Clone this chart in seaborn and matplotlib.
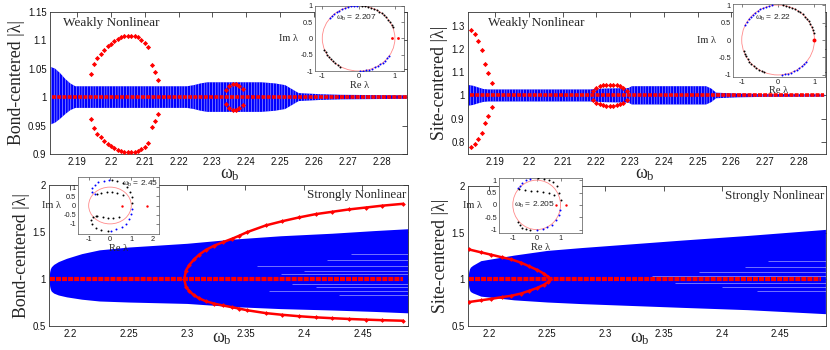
import numpy as np
import matplotlib
matplotlib.use("Agg")
import matplotlib.pyplot as plt
import seaborn as sns
from matplotlib.ticker import FixedLocator, FuncFormatter
from matplotlib.patches import Circle

# ======================= DATA =======================
# --- Panel A: bond-centered, weakly nonlinear ---
a_band_omega = [2.1822, 2.1835, 2.185, 2.1865, 2.188, 2.1895, 2.2225, 2.2245, 2.2265, 2.2285,
                2.2445, 2.2485, 2.2515, 2.2535, 2.2555, 2.262, 2.268, 2.2875]
a_band_upper = [1.053, 1.050, 1.042, 1.032, 1.024, 1.019, 1.019, 1.021, 1.024, 1.026,
                1.026, 1.024, 1.021, 1.014, 1.007, 1.005, 1.004, 1.003]
a_band_lower = [0.952, 0.955, 0.962, 0.970, 0.977, 0.981, 0.981, 0.979, 0.976, 0.974,
                0.974, 0.976, 0.979, 0.986, 0.993, 0.995, 0.996, 0.997]
a_red_omega = [2.194, 2.195, 2.196, 2.197, 2.198, 2.199, 2.200, 2.201, 2.202, 2.203, 2.204,
               2.205, 2.206, 2.207, 2.208, 2.209, 2.210, 2.211, 2.212, 2.213, 2.214]
a_red_upper = [1.040, 1.058, 1.068, 1.076, 1.083, 1.089, 1.094, 1.098, 1.102, 1.105, 1.107,
               1.108, 1.108, 1.107, 1.105, 1.101, 1.095, 1.088, 1.056, 1.044, 1.030]
a_red_lower = [0.962, 0.945, 0.936, 0.929, 0.923, 0.918, 0.914, 0.911, 0.907, 0.905, 0.903,
               0.903, 0.903, 0.903, 0.905, 0.908, 0.913, 0.919, 0.947, 0.958, 0.971]
a_red2_omega = [2.234, 2.235, 2.236, 2.237, 2.238, 2.239]
a_red2_upper = [1.012, 1.020, 1.023, 1.023, 1.020, 1.015]
a_red2_lower = [0.988, 0.981, 0.978, 0.978, 0.981, 0.986]
a_unit_range = [2.1825, 2.2875]
a_xlim = [2.182, 2.2875]
a_ylim = [0.9, 1.15]
a_xticks = [2.19, 2.20, 2.21, 2.22, 2.23, 2.24, 2.25, 2.26, 2.27, 2.28]
a_yticks = [0.9, 0.95, 1.0, 1.05, 1.1, 1.15]

# --- Panel B: site-centered, weakly nonlinear ---
b_band_omega = [2.1822, 2.1835, 2.185, 2.1865, 2.188, 2.218, 2.2225, 2.2295, 2.2305, 2.2525,
                2.254, 2.2555, 2.262, 2.27, 2.2875]
b_band_upper = [1.045, 1.042, 1.035, 1.028, 1.026, 1.026, 1.030, 1.032, 1.040, 1.040,
                1.030, 1.012, 1.008, 1.006, 1.005]
b_band_lower = [0.956, 0.959, 0.966, 0.972, 0.974, 0.974, 0.971, 0.969, 0.961, 0.961,
                0.971, 0.988, 0.992, 0.994, 0.995]
b_red_omega = [2.183, 2.184, 2.185, 2.186, 2.187, 2.188, 2.189]
b_red_upper = [1.285, 1.265, 1.235, 1.195, 1.135, 1.095, 1.055]
b_red_lower = [0.778, 0.790, 0.810, 0.837, 0.881, 0.913, 0.948]
b_red2_omega = [2.219, 2.220, 2.221, 2.222, 2.223, 2.224, 2.225, 2.226, 2.227, 2.228, 2.229]
b_red2_upper = [1.020, 1.033, 1.040, 1.044, 1.046, 1.047, 1.046, 1.044, 1.040, 1.033, 1.020]
b_red2_lower = [0.980, 0.968, 0.962, 0.958, 0.956, 0.955, 0.956, 0.958, 0.962, 0.968, 0.980]
b_unit_range = [2.1825, 2.2875]
b_xlim = [2.182, 2.288]
b_ylim = [0.747, 1.362]
b_xticks = [2.19, 2.20, 2.21, 2.22, 2.23, 2.24, 2.25, 2.26, 2.27, 2.28]
b_yticks = [0.8, 0.9, 1.0, 1.1, 1.2, 1.3]

# --- Panel C: bond-centered, strongly nonlinear ---
c_band_omega = [2.1822, 2.1826, 2.1832, 2.184, 2.186, 2.19, 2.197, 2.21, 2.225, 2.25, 2.30,
                2.34, 2.38, 2.424, 2.46, 2.489]
c_band_upper = [1.03, 1.08, 1.11, 1.13, 1.155, 1.185, 1.22, 1.27, 1.31, 1.34, 1.38,
                1.425, 1.46, 1.487, 1.515, 1.535]
c_band_lower = [0.97, 0.92, 0.89, 0.87, 0.85, 0.83, 0.81, 0.785, 0.766, 0.755, 0.74,
                0.706, 0.685, 0.67, 0.655, 0.64]
c_red_omega = [2.2977, 2.2991, 2.302, 2.3062, 2.3105, 2.3162, 2.3233, 2.3304, 2.3389, 2.3446,
               2.3517, 2.3674, 2.3816, 2.3958, 2.410, 2.4242, 2.4384, 2.4527, 2.4669, 2.4848]
c_red_upper = [1.0, 1.09, 1.15, 1.21, 1.26, 1.31, 1.355, 1.39, 1.43, 1.46, 1.50, 1.57,
               1.615, 1.655, 1.69, 1.715, 1.74, 1.76, 1.78, 1.80]
c_red_lower = [1.0, 0.917, 0.87, 0.826, 0.794, 0.763, 0.738, 0.719, 0.699, 0.685, 0.667,
               0.637, 0.619, 0.604, 0.592, 0.583, 0.575, 0.568, 0.562, 0.556]
# white gaps inside the continuous band (|λ| level, first ω where the gap shows)
c_gap_level = [1.05, 1.09, 1.14, 1.2, 1.27, 0.95, 0.91, 0.87, 0.83]
c_gap_start = [2.38, 2.40, 2.36, 2.42, 2.44, 2.39, 2.41, 2.37, 2.43]
c_unit_range = [2.1825, 2.485]
c_xlim = [2.182, 2.489]
c_ylim = [0.5, 2.0]
c_xticks = [2.2, 2.25, 2.3, 2.35, 2.4, 2.45]
c_yticks = [0.5, 1.0, 1.5, 2.0]

# --- Panel D: site-centered, strongly nonlinear ---
d_band_omega = [2.1822, 2.1826, 2.1832, 2.184, 2.186, 2.193, 2.2216, 2.25, 2.279, 2.365,
                2.422, 2.489]
d_band_upper = [1.03, 1.08, 1.11, 1.13, 1.15, 1.20, 1.26, 1.31, 1.34, 1.42, 1.47, 1.535]
d_band_lower = [0.97, 0.92, 0.89, 0.87, 0.855, 0.82, 0.78, 0.757, 0.74, 0.70, 0.675, 0.632]
d_red_omega = [2.1829, 2.1929, 2.2015, 2.2115, 2.2187, 2.2273, 2.2345, 2.2416, 2.2474,
               2.2511, 2.2525]
d_red_upper = [1.32, 1.29, 1.265, 1.235, 1.215, 1.18, 1.14, 1.10, 1.06, 1.025, 1.0]
d_red_lower = [0.757, 0.775, 0.79, 0.81, 0.823, 0.847, 0.877, 0.909, 0.943, 0.976, 1.0]
d_gap_level = [1.04, 1.08, 1.13, 1.2, 0.96, 0.92, 0.88]
d_gap_start = [2.34, 2.38, 2.42, 2.44, 2.36, 2.40, 2.43]
d_unit_range = [2.1825, 2.485]
d_xlim = [2.182, 2.4895]
d_ylim = [0.5, 2.0]
d_xticks = [2.2, 2.25, 2.3, 2.35, 2.4, 2.45]
d_yticks = [0.5, 1.0, 1.5, 2.0]

# --- Insets: Floquet multipliers in the complex plane ---
ia_label = r"$\omega_{\rm b}$ = 2.207"
ia_blue_deg = [92, 97, 102, 107, 112, 117, 122, 127, 132, 137, 142,
               -88, -83, -78, -73, -68, -63, -58, -53, -48, -43, -38, -33]
ia_black_deg = [20, 25, 30, 35, 40, 45, 50, 55, 60, 65, 70, 75, 80, 85,
                200, 205, 210, 215, 220, 225, 230, 235, 240]
ia_red_re = [0.93, 1.08]
ia_red_im = [0.0, 0.0]

ib_label = r"$\omega_{\rm b}$ = 2.22"
ib_blue_deg = [99, 104, 109, 114, 119, 124, 129, 134, 139, 144, 149, 154,
               -84, -79, -74, -69, -64, -59, -54, -49, -44, -39]
ib_black_deg = [12, 17, 22, 27, 32, 37, 42, 47, 52, 57, 62, 67, 72, 77, 82,
                198, 203, 208, 213, 218, 223, 228, 233, 238, 243, 248]
ib_red_re = [1.0]
ib_red_im = [0.0]

ic_label = r"$\omega_{\rm b}$ = 2.45"
ic_blue_re = [-0.05, -0.3, -0.55, -0.72, -0.83, -0.82, -0.7,
              0.05, 0.3, 0.55, 0.75, 0.9, 0.98, 1.02]
ic_blue_im = [1.38, 1.35, 1.26, 1.12, 0.93, 0.75, 0.63,
              -1.36, -1.3, -1.17, -0.98, -0.72, -0.45, -0.18]
ic_black_re = [0.1, 0.35, 0.6, 0.8, 0.95, 1.02, 1.03,
               -0.6, -0.4, -0.15, 0.1, 0.35, 0.6,
               -0.1, -0.4, -0.65, -0.83, -0.9, -0.8, -0.65,
               -0.6, -0.35, -0.1, 0.15, 0.4]
ic_black_im = [1.38, 1.33, 1.2, 1.0, 0.75, 0.45, 0.15,
               0.63, 0.7, 0.73, 0.72, 0.67, 0.58,
               -1.38, -1.33, -1.2, -1.0, -0.8, -0.65, -0.58,
               -0.58, -0.65, -0.68, -0.67, -0.6]
ic_red_re = [0.57, 1.75]
ic_red_im = [0.0, 0.0]

id_label = r"$\omega_{\rm b}$ = 2.205"
id_blue_re = [-0.3, -0.45, -0.6, -0.72, -0.8,
              0.0, 0.25, 0.45, 0.63, 0.8, 0.92, 0.98]
id_blue_im = [1.05, 1.0, 0.9, 0.78, 0.68,
              -1.02, -0.98, -0.9, -0.8, -0.62, -0.42, -0.22]
id_black_re = [0.07, 0.3, 0.5, 0.7, 0.85, 0.95, 1.0,
               -0.75, -0.5, -0.25, 0.0, 0.25, 0.5, 0.72,
               -0.78, -0.72, -0.6, -0.45, -0.3]
id_black_im = [1.08, 1.05, 1.0, 0.92, 0.75, 0.5, 0.2,
               0.65, 0.6, 0.58, 0.56, 0.53, 0.48, 0.4,
               -0.68, -0.82, -0.92, -0.98, -1.02]
id_red_re = [0.8, 1.25]
id_red_im = [0.0, 0.0]

# ======================= STYLE =======================
sns.set_theme(style="white")
plt.rcParams["font.family"] = ["Liberation Sans", "DejaVu Sans"]
plt.rcParams["mathtext.fontset"] = "custom"
plt.rcParams["mathtext.rm"] = "Liberation Serif"
plt.rcParams["mathtext.it"] = "Liberation Serif"
plt.rcParams["mathtext.bf"] = "Liberation Serif:bold"
plt.rcParams["hatch.linewidth"] = 0.3
SERIF = ["Liberation Serif", "DejaVu Serif"]
BLUE = "#0000ff"
RED = "#ff0000"

W, H = 830, 350
fig = plt.figure(figsize=(8.3, 3.5), dpi=100)
fig.patch.set_facecolor("white")


def box(x0, y0, x1, y1):
    return [x0 / W, 1 - y1 / H, (x1 - x0) / W, (y1 - y0) / H]


fmt = FuncFormatter(lambda v, p: "%g" % round(v, 4))


def main_axes(rect, xlim, ylim, xticks, yticks, ylabel):
    ax = fig.add_axes(box(*rect))
    ax.set_facecolor("white")
    ax.set_xlim(xlim)
    ax.set_ylim(ylim)
    ax.xaxis.set_major_locator(FixedLocator(xticks))
    ax.yaxis.set_major_locator(FixedLocator(yticks))
    ax.xaxis.set_major_formatter(fmt)
    ax.yaxis.set_major_formatter(fmt)
    ax.tick_params(direction="in", length=3.5, width=0.5, labelsize=6.9, pad=2.5,
                   top=True, right=True, colors="#111")
    for s in ax.spines.values():
        s.set_linewidth(0.6)
        s.set_color("#333")
    ax.set_ylabel(ylabel, family=SERIF, fontsize=12.8, labelpad=2)
    return ax


def inset_axes(rect, xlim, ylim, xticks, yticks, label, label_xy):
    ax = fig.add_axes(box(*rect))
    ax.set_facecolor("white")
    ax.set_xlim(xlim)
    ax.set_ylim(ylim)
    ax.xaxis.set_major_locator(FixedLocator(xticks))
    ax.yaxis.set_major_locator(FixedLocator(yticks))
    ax.xaxis.set_major_formatter(fmt)
    ax.yaxis.set_major_formatter(fmt)
    ax.tick_params(direction="in", length=2, width=0.4, labelsize=5.3, pad=1.5,
                   top=True, right=True, colors="#222")
    for s in ax.spines.values():
        s.set_linewidth(0.5)
        s.set_color("#555")
    ax.add_patch(Circle((0, 0), 1.0, fill=False, ec="#ff8a8a", lw=0.6, zorder=1))
    ax.set_xlabel("Re λ", family=SERIF, fontsize=7.5, labelpad=0.5)
    ax.set_ylabel("Im λ", family=SERIF, fontsize=7.5, rotation=0, ha="right",
                  va="center", labelpad=2)
    ax.text(label_xy[0], label_xy[1], label, fontsize=6.0, ha="left", va="center")
    return ax


def dots(ax, x, y, color, s=2.0):
    sns.scatterplot(x=x, y=y, ax=ax, color=color, s=s, linewidth=0,
                    marker="o", legend=False, zorder=3)


OMEGA = r"$\omega_{\rm b}$"

# ======================= PANEL A =======================
axA = main_axes((50, 11.7, 407, 154), a_xlim, a_ylim, a_xticks, a_yticks,
                "Bond-centered |λ|")
axA.fill_between(a_band_omega, a_band_lower, a_band_upper, facecolor=BLUE,
                 edgecolor="white", hatch="||||||", linewidth=0, zorder=2)
axA.hlines(1.0, a_unit_range[0], a_unit_range[1], colors=RED, lw=2.6,
           linestyles=(0, (1.1, 0.35)), zorder=4)
for xs, ys in [(a_red_omega, a_red_upper), (a_red_omega, a_red_lower),
               (a_red2_omega, a_red2_upper), (a_red2_omega, a_red2_lower)]:
    sns.scatterplot(x=xs, y=ys, ax=axA, color=RED, marker="D", s=7, linewidth=0,
                    legend=False, zorder=5)
axA.text(0.036, 0.965, "Weakly Nonlinear", transform=axA.transAxes, family=SERIF,
         fontsize=9.5, ha="left", va="top")
axA.text(0.504, -0.145, OMEGA, transform=axA.transAxes, fontsize=13,
         ha="center", va="center")

# ======================= PANEL B =======================
axB = main_axes((468, 11.7, 826, 154), b_xlim, b_ylim, b_xticks, b_yticks,
                "Site-centered |λ|")
axB.fill_between(b_band_omega, b_band_lower, b_band_upper, facecolor=BLUE,
                 edgecolor="white", hatch="||||||", linewidth=0, zorder=2)
axB.hlines(1.0, b_unit_range[0], b_unit_range[1], colors=RED, lw=2.6,
           linestyles=(0, (1.1, 0.35)), zorder=4)
for xs, ys in [(b_red_omega, b_red_upper), (b_red_omega, b_red_lower),
               (b_red2_omega, b_red2_upper), (b_red2_omega, b_red2_lower)]:
    sns.scatterplot(x=xs, y=ys, ax=axB, color=RED, marker="D", s=7, linewidth=0,
                    legend=False, zorder=5)
axB.text(0.055, 0.965, "Weakly Nonlinear", transform=axB.transAxes, family=SERIF,
         fontsize=9.5, ha="left", va="top")
axB.text(0.494, -0.145, OMEGA, transform=axB.transAxes, fontsize=13,
         ha="center", va="center")

# ======================= PANEL C =======================
axC = main_axes((49, 185, 408, 326), c_xlim, c_ylim, c_xticks, c_yticks,
                "Bond-centered |λ|")
axC.fill_between(c_band_omega, c_band_lower, c_band_upper, color=BLUE, linewidth=0,
                 zorder=2)
axC.hlines(c_gap_level, c_gap_start, c_xlim[1], colors="white", lw=0.45, alpha=0.7,
           zorder=3)
axC.hlines(1.0, c_unit_range[0], c_unit_range[1], colors=RED, lw=3.0,
           linestyles=(0, (1.2, 0.25)), zorder=4)
for ys in (c_red_upper, c_red_lower):
    sns.lineplot(x=c_red_omega, y=ys, ax=axC, color=RED, lw=1.8, marker="D",
                 markersize=2.4, markeredgewidth=0, sort=False, estimator=None,
                 legend=False, zorder=5)
axC.text(0.995, 0.975, "Strongly Nonlinear", transform=axC.transAxes, family=SERIF,
         fontsize=9.4, ha="right", va="top")
axC.text(0.482, -0.09, OMEGA, transform=axC.transAxes, fontsize=13,
         ha="center", va="center")

# ======================= PANEL D =======================
axD = main_axes((468, 186, 826, 326), d_xlim, d_ylim, d_xticks, d_yticks,
                "Site-centered |λ|")
axD.fill_between(d_band_omega, d_band_lower, d_band_upper, color=BLUE, linewidth=0,
                 zorder=2)
axD.hlines(d_gap_level, d_gap_start, d_xlim[1], colors="white", lw=0.45, alpha=0.7,
           zorder=3)
axD.hlines(1.0, d_unit_range[0], d_unit_range[1], colors=RED, lw=3.0,
           linestyles=(0, (1.2, 0.25)), zorder=4)
for ys in (d_red_upper, d_red_lower):
    sns.lineplot(x=d_red_omega, y=ys, ax=axD, color=RED, lw=1.8, marker="D",
                 markersize=2.4, markeredgewidth=0, sort=False, estimator=None,
                 legend=False, zorder=5)
axD.text(0.995, 0.975, "Strongly Nonlinear", transform=axD.transAxes, family=SERIF,
         fontsize=9.4, ha="right", va="top")
axD.text(0.48, -0.09, OMEGA, transform=axD.transAxes, fontsize=13,
         ha="center", va="center")

# ======================= INSETS =======================
iA = inset_axes((315, 5.7, 404, 71), [-1.2, 1.25], [-1.0, 1.0], [-1, 0, 1],
                [-1, -0.5, 0, 0.5, 1], ia_label, (-0.62, 0.62))
dots(iA, list(np.cos(np.radians(ia_blue_deg))), list(np.sin(np.radians(ia_blue_deg))), BLUE)
dots(iA, list(np.cos(np.radians(ia_black_deg))), list(np.sin(np.radians(ia_black_deg))), "black")
dots(iA, ia_red_re, ia_red_im, RED, s=4)

iB = inset_axes((733, 4, 825, 76.7), [-1.24, 1.29], [-1.05, 1.03], [-1, 0, 1],
                [-1, -0.5, 0, 0.5, 1], ib_label, (-0.64, 0.62))
dots(iB, list(np.cos(np.radians(ib_blue_deg))), list(np.sin(np.radians(ib_blue_deg))), BLUE)
dots(iB, list(np.cos(np.radians(ib_black_deg))), list(np.sin(np.radians(ib_black_deg))), "black")
dots(iB, ib_red_re, ib_red_im, RED, s=8)

iC = inset_axes((78, 177, 159, 234), [-1.5, 2.3], [-1.55, 1.55], [-1, 0, 1, 2],
                [-1, -0.5, 0, 0.5, 1], ic_label, (0.55, 1.2))
dots(iC, ic_blue_re, ic_blue_im, BLUE)
dots(iC, ic_black_re, ic_black_im, "black")
dots(iC, ic_red_re, ic_red_im, RED, s=3)

iD = inset_axes((499, 177.7, 582, 233.3), [-1.58, 1.9], [-1.15, 1.1], [-1, 0, 1],
                [-1, -0.5, 0, 0.5, 1], id_label, (-0.95, 0.0))
dots(iD, id_blue_re, id_blue_im, BLUE)
dots(iD, id_black_re, id_black_im, "black")
dots(iD, id_red_re, id_red_im, RED, s=3)

fig.savefig("out.png", dpi=100, facecolor="white")
